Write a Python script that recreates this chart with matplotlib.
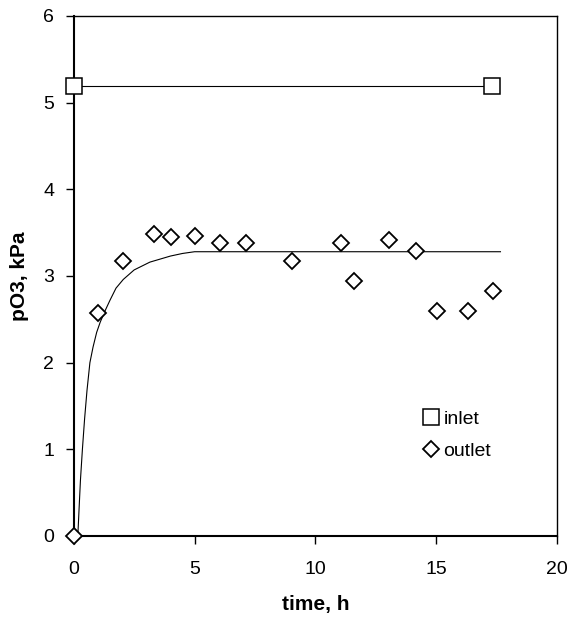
import matplotlib.pyplot as plt

plt.rcParams['font.family'] = ['Liberation Sans', 'DejaVu Sans']

# inlet ozone partial pressure
inlet_t = [0.0, 17.3]
inlet_p = [5.19, 5.19]

# outlet measurements
outlet_t = [0.0, 1.02, 2.05, 3.33, 4.02, 5.02, 6.05, 7.11, 9.03, 11.07,
            11.6, 13.03, 14.16, 15.02, 16.29, 17.35]
outlet_p = [0.0, 2.57, 3.17, 3.48, 3.45, 3.46, 3.38, 3.38, 3.17, 3.38,
            2.94, 3.41, 3.29, 2.60, 2.60, 2.83]

# model curve
model_t = [0.17, 0.22, 0.28, 0.36, 0.45, 0.55, 0.67, 0.8, 0.95, 1.1, 1.3,
           1.5, 1.75, 2.05, 2.5, 3.15, 4.0, 4.5, 5.0, 17.65]
model_p = [0.0, 0.3, 0.65, 1.0, 1.35, 1.68, 2.0, 2.18, 2.35, 2.47, 2.6,
           2.72, 2.86, 2.96, 3.07, 3.16, 3.23, 3.26, 3.28, 3.28]

fig = plt.figure(figsize=(5.7, 6.2), dpi=100)
ax = fig.add_axes([0.1293, 0.1355, 0.8484, 0.8387])

ax.plot(inlet_t, inlet_p, color='black', lw=0.8, zorder=2)
ax.plot(model_t, model_p, color='black', lw=0.8, zorder=2)
ax.plot(inlet_t, inlet_p, ls='none', marker='s', ms=11, mfc='white',
        mec='black', mew=1.1, label='inlet', zorder=3, clip_on=False)
ax.plot(outlet_t, outlet_p, ls='none', marker='D', ms=8, mfc='white',
        mec='black', mew=1.3, label='outlet', zorder=3, clip_on=False)

ax.set_xlim(0, 20)
ax.set_ylim(0, 6)
ax.set_xticks([0, 5, 10, 15, 20])
ax.set_yticks([0, 1, 2, 3, 4, 5, 6])
ax.tick_params(direction='out', length=6, width=1, labelsize=14)
ax.tick_params(axis='x', pad=12)
ax.tick_params(axis='y', pad=8)
for s in ax.spines.values():
    s.set_linewidth(1)
ax.spines['left'].set_linewidth(1.5)
ax.spines['bottom'].set_linewidth(1.5)

ax.set_xlabel('time, h', fontsize=15, fontweight='bold', labelpad=12)
ax.set_ylabel('pO3, kPa', fontsize=15, fontweight='bold', labelpad=10)

ax.legend(loc='center left', bbox_to_anchor=(0.722, 0.194), frameon=False,
          fontsize=14, handlelength=0.8, handletextpad=0.25, labelspacing=0.75,
          borderaxespad=0, borderpad=0)

fig.savefig('out.png', dpi=100)
